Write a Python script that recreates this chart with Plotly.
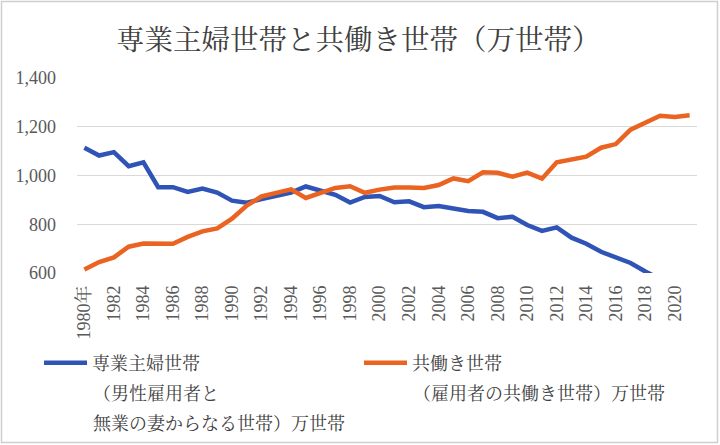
import plotly.graph_objects as go

years = list(range(1980, 2022))
housewife = [1114, 1082, 1096, 1038, 1054, 952, 952, 933, 946, 930,
             897, 888, 903, 915, 930, 955, 937, 921, 889, 912,
             916, 890, 894, 870, 875, 863, 854, 851, 825, 831,
             797, 773, 787, 745, 720, 687, 664, 641, 606, 575,
             571, 566]
dual = [614, 645, 664, 708, 721, 722, 720, 748, 771, 783,
        823, 877, 914, 929, 943, 908, 927, 949, 956, 929,
        942, 951, 951, 949, 961, 988, 977, 1013, 1011, 995,
        1012, 987, 1054, 1065, 1077, 1114, 1129, 1188, 1219, 1245,
        1240, 1247]
tick_years = list(range(1980, 2021, 2))
tick_text = ["1980年"] + [str(y) for y in tick_years[1:]]

title_text = "専業主婦世帯と共働き世帯（万世帯）"
name1 = "専業主婦世帯"
name1_rest = ["（男性雇用者と", "無業の妻からなる世帯）万世帯"]
name2 = "共働き世帯"
name2_rest = ["（雇用者の共働き世帯）万世帯"]

FONT = "Liberation Serif, Noto Serif CJK JP, Noto Sans CJK JP, serif"
BLUE = "#2F54B6"
ORANGE = "#EA6321"
TXT = "#404040"

W, H = 720, 445
L, R, T, B = 77, 23, 78, 172
PW, PH = W - L - R, H - T - B

def px(x):
    return (x - L) / PW

def py(y):
    return (H - B - y) / PH

fig = go.Figure()
fig.add_trace(go.Scatter(x=years, y=housewife, mode="lines", name=name1,
                         line=dict(color=BLUE, width=4.5)))
fig.add_trace(go.Scatter(x=years, y=dual, mode="lines", name=name2,
                         line=dict(color=ORANGE, width=4.5)))

annotations = []
for i, t in enumerate(name1_rest):
    annotations.append(dict(text=t, x=px(91), y=py(394 + 30 * i), xref="paper", yref="paper",
                            xanchor="left", yanchor="middle", showarrow=False,
                            font=dict(family=FONT, size=18, color=TXT)))
for i, t in enumerate(name2_rest):
    annotations.append(dict(text=t, x=px(411), y=py(394 + 30 * i), xref="paper", yref="paper",
                            xanchor="left", yanchor="middle", showarrow=False,
                            font=dict(family=FONT, size=18, color=TXT)))

fig.update_layout(
    width=W, height=H,
    margin=dict(l=L, r=R, t=T, b=B),
    paper_bgcolor="white", plot_bgcolor="white",
    title=dict(text=title_text, x=116 / W, xanchor="left", y=1 - 40 / H, yanchor="middle",
               xref="container", yref="container",
               font=dict(family=FONT, size=28.5, color=TXT)),
    font=dict(family=FONT, size=18, color="#595959"),
    showlegend=True,
    legend=dict(orientation="h", x=px(39), xanchor="left", y=py(363), yanchor="middle",
                font=dict(family=FONT, size=18, color=TXT),
                itemwidth=43, entrywidthmode="pixels", entrywidth=262,
                bgcolor="rgba(0,0,0,0)", traceorder="normal"),
    annotations=annotations,
    shapes=[dict(type="rect", xref="paper", yref="paper",
                 x0=px(1.5), x1=px(717.5), y0=py(442.5), y1=py(1.5),
                 line=dict(color="#CFCFCF", width=1.5), fillcolor="rgba(0,0,0,0)", layer="below")],
)
fig.update_xaxes(range=[1979.5, 2021.5], tickmode="array", tickvals=tick_years, ticktext=tick_text,
                 tickangle=-90, showgrid=False, zeroline=False, showline=False, ticks="",
                 ticklabelstandoff=8, automargin=False,
                 tickfont=dict(family=FONT, size=18, color="#595959"))
fig.update_yaxes(range=[600, 1400], dtick=200, tickformat=",", showgrid=True, gridcolor="#D9D9D9",
                 gridwidth=1, zeroline=False, showline=False, ticks="", ticklabelstandoff=20,
                 automargin=False, tickfont=dict(family=FONT, size=18, color="#595959"))

fig.write_html("out.html", config={"displayModeBar": False},
               post_script="document.body.style.margin='0px';document.body.style.overflow='hidden';")
